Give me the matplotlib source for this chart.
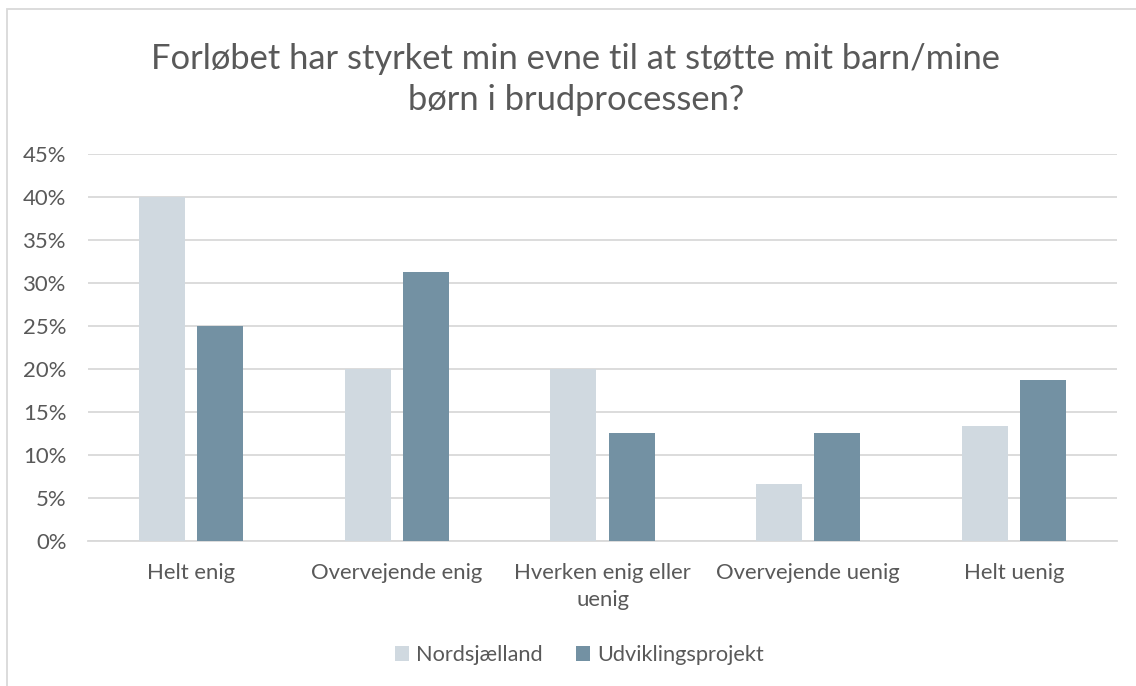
import matplotlib
matplotlib.use('Agg')
from matplotlib import pyplot as plt
from matplotlib.patches import Rectangle
from matplotlib.ticker import PercentFormatter
import numpy as np

# data
kategorier = ['Helt enig', 'Overvejende enig', 'Hverken enig eller\nuenig',
              'Overvejende uenig', 'Helt uenig']
nordsjaelland = [40.0, 20.0, 20.0, 6.67, 13.33]
udvikling = [25.0, 31.25, 12.5, 12.5, 18.75]
serier = ['Nordsjælland', 'Udviklingsprojekt']
titel = 'Forløbet har styrket min evne til at støtte mit barn/mine\nbørn i brudprocessen?'

plt.rcParams['font.family'] = ['Lato', 'DejaVu Sans']
tekst = '#595959'

fig = plt.figure(figsize=(11.36, 6.86), dpi=100)
fig.patch.set_facecolor('white')

# ramme om diagrammet
fig.add_artist(Rectangle((7 / 1136, -0.05), 1.2, 1 - 9 / 686 + 0.05,
                         transform=fig.transFigure, fill=False,
                         edgecolor='#D9D9D9', linewidth=1.3))

ax = fig.add_axes([88 / 1136, 1 - 541 / 686, 1029 / 1136, 387 / 686])
x = np.arange(len(kategorier))
bredde = 0.2235
ax.bar(x - 0.141, nordsjaelland, bredde, color='#D0D9E0', label=serier[0], zorder=3)
ax.bar(x + 0.141, udvikling, bredde, color='#7391A3', label=serier[1], zorder=3)

ax.set_xlim(-0.5, len(kategorier) - 0.5)
ax.set_ylim(0, 45)
ax.set_yticks(np.arange(0, 46, 5))
ax.yaxis.set_major_formatter(PercentFormatter(decimals=0))
ax.yaxis.grid(True, color='#D9D9D9', linewidth=1.3, zorder=0)
ax.set_xticks(x)
ax.set_xticklabels(kategorier, linespacing=1.42)
ax.tick_params(axis='both', length=0, labelsize=15.9, colors=tekst)
ax.tick_params(axis='x', pad=16)
ax.tick_params(axis='y', pad=15.5)
for s in ['top', 'right', 'left']:
    ax.spines[s].set_visible(False)
ax.spines['bottom'].set_color('#D9D9D9')
ax.spines['bottom'].set_linewidth(1.3)

fig.text(0.507, 1 - 79.5 / 686, titel, ha='center', va='center', fontsize=24.8,
         color=tekst, linespacing=1.38)

fig.legend(loc='center', bbox_to_anchor=(0.51, 1 - 655 / 686), ncol=2,
           frameon=False, fontsize=15.7, labelcolor=tekst, handlelength=0.65,
           handleheight=0.65, handletextpad=0.35, columnspacing=1.5)

fig.savefig('out.png', dpi=100)
